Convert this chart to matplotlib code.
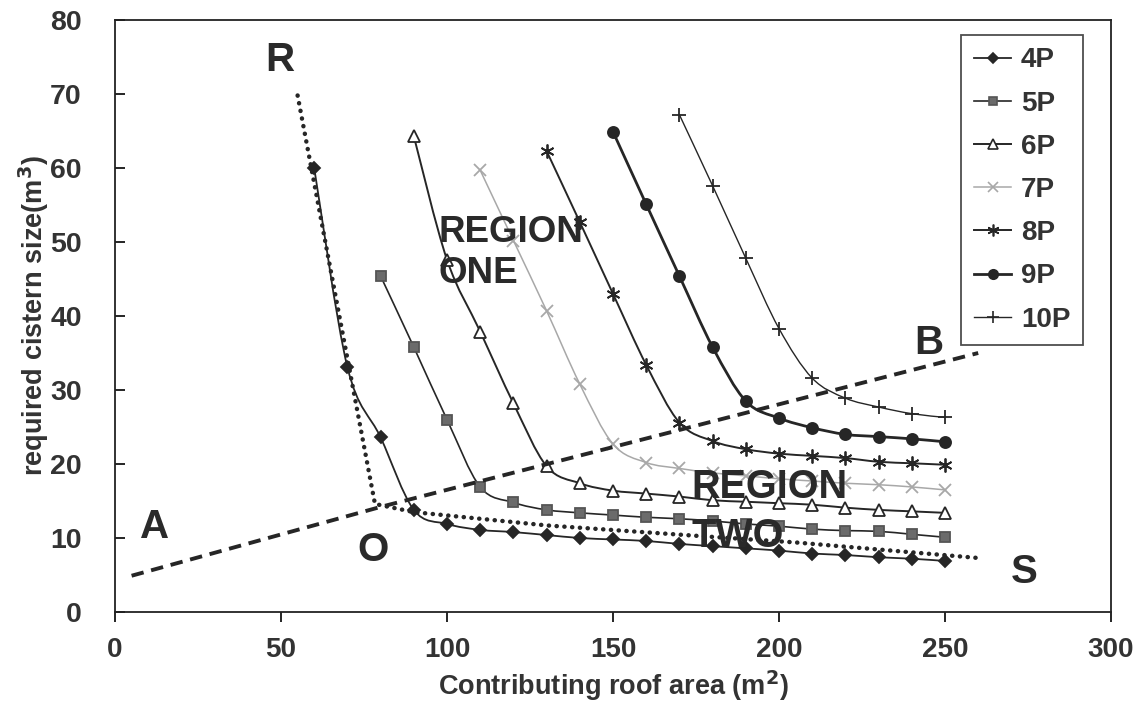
import numpy as np
import matplotlib
matplotlib.use("Agg")
import matplotlib.pyplot as plt
from matplotlib.path import Path
from matplotlib.patches import PathPatch
from matplotlib.lines import Line2D

plt.rcParams["font.family"] = ["Liberation Sans", "DejaVu Sans"]
plt.rcParams["font.weight"] = "bold"

# ---- data: required cistern size (m^3) against contributing roof area (m^2)
area_4p = [60, 70, 80, 90, 100, 110, 120, 130, 140, 150, 160, 170, 180, 190, 200, 210, 220, 230, 240, 250]
size_4p = [60.0, 33.1, 23.6, 13.8, 11.9, 11.1, 10.8, 10.4, 10.0, 9.8, 9.6, 9.2, 8.9, 8.6, 8.3, 7.9, 7.7, 7.4, 7.2, 6.9]

area_5p = [80, 90, 100, 110, 120, 130, 140, 150, 160, 170, 180, 190, 200, 210, 220, 230, 240, 250]
size_5p = [45.4, 35.8, 26.0, 16.9, 14.8, 13.8, 13.4, 13.1, 12.8, 12.6, 12.3, 11.9, 11.6, 11.2, 11.0, 10.9, 10.5, 10.1]

area_6p = [90, 100, 110, 120, 130, 140, 150, 160, 170, 180, 190, 200, 210, 220, 230, 240, 250]
size_6p = [64.3, 47.6, 37.9, 28.2, 19.7, 17.4, 16.4, 16.0, 15.6, 15.1, 14.9, 14.7, 14.5, 14.1, 13.8, 13.6, 13.4]

area_7p = [110, 120, 130, 140, 150, 160, 170, 180, 190, 200, 210, 220, 230, 240, 250]
size_7p = [59.7, 50.2, 40.7, 30.8, 22.7, 20.2, 19.4, 18.8, 18.4, 18.0, 17.7, 17.4, 17.2, 16.9, 16.5]

area_8p = [130, 140, 150, 160, 170, 180, 190, 200, 210, 220, 230, 240, 250]
size_8p = [62.3, 52.7, 43.0, 33.4, 25.6, 23.1, 22.0, 21.4, 21.1, 20.8, 20.3, 20.1, 19.9]

area_9p = [150, 160, 170, 180, 190, 200, 210, 220, 230, 240, 250]
size_9p = [64.9, 55.1, 45.4, 35.8, 28.5, 26.2, 24.9, 24.0, 23.7, 23.4, 23.0]

area_10p = [170, 180, 190, 200, 210, 220, 230, 240, 250]
size_10p = [67.2, 57.6, 47.8, 38.3, 31.6, 28.9, 27.7, 26.8, 26.3]

# boundary lines
rs_x = [55, 78.3, 90, 130, 175, 205, 260]
rs_y = [69.8, 14.6, 13.5, 11.7, 10.3, 9.4, 7.3]
ab_x = [5, 80, 260]
ab_y = [4.9, 14.2, 35.0]

series_labels = ["4P", "5P", "6P", "7P", "8P", "9P", "10P"]

# ---- styles
ink = "#262626"
styles = [
    dict(area=area_4p, size=size_4p, color=ink, lw=1.3, marker="D", ms=6.5, mfc=ink, mec=ink),
    dict(area=area_5p, size=size_5p, color=ink, lw=1.2, marker="s", ms=7, mfc="#6b6b6b", mec="#555555"),
    dict(area=area_6p, size=size_6p, color=ink, lw=1.4, marker="^", ms=8, mfc="white", mec=ink),
    dict(area=area_7p, size=size_7p, color="#a8a8a8", lw=1.1, marker="x", ms=8, mfc="#a8a8a8", mec="#a8a8a8"),
    dict(area=area_8p, size=size_8p, color=ink, lw=1.4, marker=(6, 2, 0), ms=10, mfc=ink, mec=ink),
    dict(area=area_9p, size=size_9p, color=ink, lw=2.0, marker="o", ms=8, mfc=ink, mec=ink),
    dict(area=area_10p, size=size_10p, color=ink, lw=1.0, marker="+", ms=10, mfc=ink, mec=ink),
]


def smooth_path(xs, ys):
    """Cubic Bezier path through the points (Catmull-Rom style smoothing)."""
    p = np.column_stack([xs, ys]).astype(float)
    n = len(p)
    verts = [p[0]]
    codes = [Path.MOVETO]
    for i in range(n - 1):
        p0 = p[i - 1] if i > 0 else p[i]
        p1 = p[i]
        p2 = p[i + 1]
        p3 = p[i + 2] if i + 2 < n else p[i + 1]
        c1 = p1 + (p2 - p0) / 6.0
        c2 = p2 - (p3 - p1) / 6.0
        verts += [c1, c2, p2]
        codes += [Path.CURVE4] * 3
    return Path(verts, codes)


fig = plt.figure(figsize=(11.44, 7.11), dpi=100)
ax = fig.add_axes([115 / 1144, (711 - 612) / 711, 996 / 1144, 592 / 711])

handles = []
for st, lab in zip(styles, series_labels):
    patch = PathPatch(smooth_path(st["area"], st["size"]), facecolor="none",
                      edgecolor=st["color"], lw=st["lw"], zorder=3)
    ax.add_patch(patch)
    ax.plot(st["area"], st["size"], linestyle="none", marker=st["marker"],
            ms=st["ms"], mfc=st["mfc"], mec=st["mec"], mew=1.3, zorder=4)
    handles.append(Line2D([], [], color=st["color"], lw=st["lw"], marker=st["marker"],
                          ms=st["ms"] * 0.85, mfc=st["mfc"], mec=st["mec"], mew=1.2))

# boundary lines
ax.plot(rs_x, rs_y, color=ink, lw=3.2, linestyle=(0, (0.05, 1.7)),
        dash_capstyle="round", solid_capstyle="round", zorder=5)
ax.plot(ab_x, ab_y, color=ink, lw=2.8, linestyle=(0, (3.2, 2.0)), zorder=5)

# region and point annotations
lab_kw = dict(fontsize=29, fontweight="bold", color="#2a2a2a", ha="center", va="center", zorder=6)
ax.text(49.7, 74.6, "R", **lab_kw)
ax.text(12, 11.5, "A", **lab_kw)
ax.text(77.7, 8.4, "O", **lab_kw)
ax.text(245, 36.3, "B", **lab_kw)
ax.text(274, 5.4, "S", **lab_kw)

ax.text(97.5, 51.3, "REGION", fontsize=26.5, fontweight="bold", color="#2a2a2a",
        ha="left", va="center", zorder=6)
ax.text(97.5, 45.8, "ONE", fontsize=26.5, fontweight="bold", color="#2a2a2a",
        ha="left", va="center", zorder=6)
ax.text(173.5, 16.9, "REGION", fontsize=28.5, fontweight="bold", color="#2a2a2a",
        ha="left", va="center", zorder=6)
ax.text(173.5, 10.3, "TWO", fontsize=28.5, fontweight="bold", color="#2a2a2a",
        ha="left", va="center", zorder=6)

# axes
ax.set_xlim(0, 300)
ax.set_ylim(0, 80)
ax.set_xticks(np.arange(0, 301, 50))
ax.set_yticks(np.arange(0, 81, 10))
ax.tick_params(axis="x", direction="out", length=7, width=1.2, labelsize=20,
               labelcolor="#333333", pad=11)
ax.tick_params(axis="y", direction="in", length=7, width=1.2, labelsize=20.5,
               labelcolor="#333333", pad=24)
for lbl in ax.get_xticklabels() + ax.get_yticklabels():
    lbl.set_fontweight("bold")
for sp in ax.spines.values():
    sp.set_linewidth(1.3)
    sp.set_color("#222222")

ax.set_xlabel("Contributing roof area (m$^\\mathbf{2}$)", fontsize=19.5, fontweight="bold",
              color="#333333", labelpad=4)
ax.set_ylabel("required cistern size(m$^\\mathbf{3}$)", fontsize=19.5, fontweight="bold",
              color="#333333")
ax.yaxis.set_label_coords(-0.064, 0.5)

leg = ax.legend(handles, series_labels, loc="upper right", bbox_to_anchor=(0.972, 0.975),
                fontsize=20, frameon=True, fancybox=False, edgecolor="#222222",
                handlelength=1.35, handletextpad=0.35, labelspacing=0.62,
                borderpad=0.45, borderaxespad=0)
leg.get_frame().set_linewidth(1.3)
for t in leg.get_texts():
    t.set_fontweight("bold")
    t.set_color("#333333")

fig.savefig("out.png", dpi=100)
